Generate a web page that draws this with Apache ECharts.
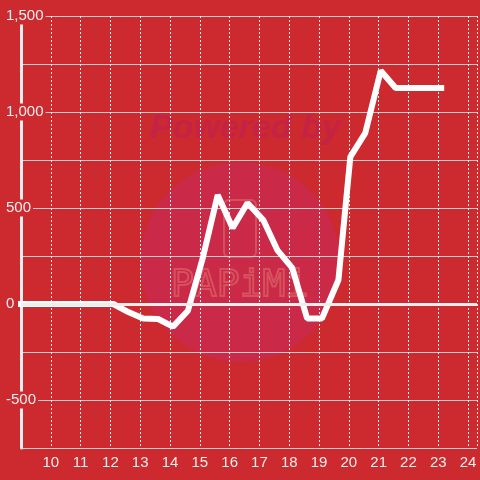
<!DOCTYPE html>
<html>
<head>
<meta charset="utf-8">
<script src="https://cdn.jsdelivr.net/npm/echarts@6/dist/echarts.min.js"></script>
<style>
  html, body { margin: 0; padding: 0; background: #cc2a2e; }
  #chart { width: 480px; height: 480px; }
</style>
</head>
<body>
<div id="chart"></div>
<script>
// hours of day (x) and values (y)
const hours = [8.87, 12.1, 12.6, 13.1, 13.6, 14.1, 14.6, 15.1, 15.6, 16.1, 16.6, 17.13, 17.6, 18.1, 18.6, 19.1, 19.65, 20.05, 20.55, 21.07, 21.57, 22.1, 22.6, 23.2];
const values = [0, 0, -42, -75, -78, -118, -35, 240, 568, 396, 526, 437, 281, 188, -75, -75, 125, 766, 890, 1215, 1125, 1125, 1125, 1125];

const BG = "#cc2a2e";
const LABEL_COLOR = "#eeeeee";

const chart = echarts.init(document.getElementById("chart"));

const option = {
  animation: false,
  backgroundColor: BG,
  textStyle: { fontFamily: "Liberation Sans, Arial, sans-serif" },
  grid: { left: 21, right: 0, top: 16, bottom: 32 },
  // faint watermark
  graphic: [
    { type: "circle", z: -10, shape: { cx: 240, cy: 262, r: 100 }, style: { fill: "#ca2947" } },
    {
      type: "text", z: -9, left: 150, top: 112,
      style: { text: "Powered by", fill: "#c52346", font: "italic bold 34px Liberation Sans, Arial, sans-serif" }
    },
    {
      type: "rect", z: -9, shape: { x: 224, y: 200, width: 32, height: 57, r: 5 },
      style: { fill: "none", stroke: "#d5505e", lineWidth: 2 }
    },
    {
      type: "text", z: -9, left: 170, top: 266,
      style: { text: "PAPiMi", fill: "none", stroke: "#d6525f", lineWidth: 2, font: "38px DejaVu Sans Mono, monospace" }
    }
  ],
  xAxis: {
    type: "value",
    min: 9,
    max: 24.3,
    interval: 1,
    axisLine: { show: false },
    axisTick: { show: false },
    axisLabel: {
      color: LABEL_COLOR,
      fontSize: 15,
      margin: 7,
      formatter: (v) => (Number.isInteger(v) && v > 9 ? String(v) : "")
    },
    splitLine: { show: true, lineStyle: { color: "#eeeeee", width: 1, type: [2, 2] } }
  },
  yAxis: {
    type: "value",
    min: -750,
    max: 1500,
    interval: 250,
    axisLine: { show: true, lineStyle: { color: "#eeeeee", width: 3 } },
    axisTick: { show: false },
    axisLabel: {
      color: LABEL_COLOR,
      fontSize: 15,
      align: "left",
      margin: 16,
      backgroundColor: BG,
      padding: [1, 2, 1, 1],
      formatter: (v) => (v % 500 === 0 ? echarts.format.addCommas(v) : "")
    },
    splitLine: { show: true, lineStyle: { color: "#cccccc", width: 1 } }
  },
  series: [
    {
      type: "line",
      data: hours.map((h, i) => [h, values[i]]),
      showSymbol: false,
      clip: false,
      lineStyle: { color: "#ffffff", width: 6 },
      markLine: {
        silent: true,
        symbol: "none",
        label: { show: false },
        lineStyle: { color: "#eeeeee", width: 3, type: "solid" },
        data: [{ yAxis: 0 }]
      }
    }
  ]
};

chart.setOption(option);
</script>
</body>
</html>
